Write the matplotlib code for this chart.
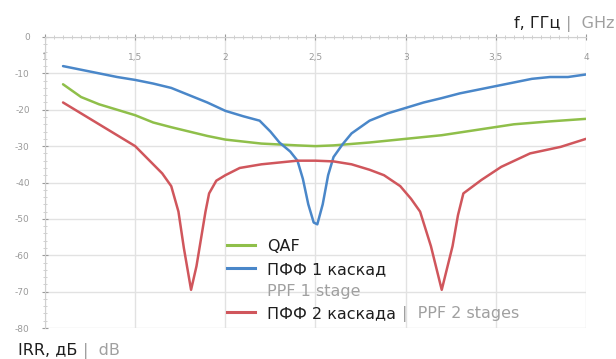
import matplotlib
matplotlib.use('Agg')
import matplotlib.pyplot as plt
from matplotlib.ticker import MultipleLocator, FuncFormatter
from matplotlib.lines import Line2D

plt.rcParams['font.family'] = ['DejaVu Sans']

# QAF
qaf_x = [1.1, 1.2, 1.3, 1.4, 1.5, 1.6, 1.7, 1.8, 1.9, 2.0, 2.2, 2.4, 2.5, 2.6,
         2.8, 3.0, 3.2, 3.4, 3.6, 3.8, 4.0]
qaf_y = [-13, -16.5, -18.5, -20, -21.5, -23.5, -24.8, -26, -27.2, -28.2, -29.3,
         -29.8, -30, -29.8, -29, -28, -27, -25.5, -24, -23.2, -22.5]

# PPF 1 stage
ppf1_x = [1.1, 1.2, 1.3, 1.4, 1.5, 1.6, 1.7, 1.8, 1.9, 2.0, 2.1, 2.19, 2.25,
          2.3, 2.36, 2.4, 2.43, 2.46, 2.49, 2.51, 2.54, 2.57, 2.6, 2.65, 2.7,
          2.8, 2.9, 3.0, 3.1, 3.2, 3.3, 3.4, 3.5, 3.6, 3.7, 3.8, 3.9, 4.0]
ppf1_y = [-8, -9, -10, -11, -11.8, -12.8, -14, -16, -18, -20.3, -21.8, -23,
          -26, -29, -31.5, -34, -39, -46, -51, -51.5, -46, -38, -33, -29.5,
          -26.5, -23, -21, -19.5, -18, -16.8, -15.5, -14.5, -13.5, -12.5,
          -11.5, -11, -11, -10.3]

# PPF 2 stages
ppf2_x = [1.1, 1.2, 1.3, 1.4, 1.45, 1.5, 1.55, 1.6, 1.65, 1.7, 1.74, 1.77,
          1.81, 1.84, 1.86, 1.89, 1.91, 1.95, 2.0, 2.08, 2.2, 2.3, 2.4, 2.5,
          2.6, 2.7, 2.8, 2.88, 2.97, 3.03, 3.08, 3.14, 3.2, 3.26, 3.29, 3.32,
          3.42, 3.53, 3.69, 3.86, 4.0]
ppf2_y = [-18, -21, -24, -27, -28.5, -30, -32.5, -35, -37.5, -41, -48, -58,
          -69.5, -63, -57, -48, -43, -39.5, -38, -36, -35, -34.5, -34, -34,
          -34.2, -35, -36.5, -38, -41, -44.5, -48, -57.5, -69.5, -57.5, -49,
          -43, -39.3, -35.7, -32, -30.2, -28]

x_ticks = [1, 1.5, 2, 2.5, 3, 3.5, 4]
y_ticks = [0, -10, -20, -30, -40, -50, -60, -70, -80]

green = '#8fbf4a'
blue = '#4a87c9'
red = '#d0565c'
grid_c = '#e2e2e2'
tick_c = '#9a9a9a'
dark = '#1e1e1e'
light = '#a0a0a0'
fs = 11.5
W, H = 616, 359

fig = plt.figure(figsize=(6.16, 3.59), dpi=100)
ax = fig.add_axes([45 / W, 1 - 328 / H, 541 / W, 291 / H])

ax.plot(qaf_x, qaf_y, color=green, lw=1.8, solid_capstyle='round')
ax.plot(ppf1_x, ppf1_y, color=blue, lw=1.8, solid_capstyle='round')
ax.plot(ppf2_x, ppf2_y, color=red, lw=1.8, solid_capstyle='round')

ax.set_xlim(1, 4)
ax.set_ylim(-80, 0)
ax.set_xticks(x_ticks)
ax.set_yticks(y_ticks)
ax.xaxis.set_minor_locator(MultipleLocator(0.05))
ax.yaxis.set_minor_locator(MultipleLocator(2))
ax.xaxis.tick_top()
ax.xaxis.set_major_formatter(FuncFormatter(lambda v, p: ('%g' % v).replace('.', ',')))
ax.yaxis.set_major_formatter(FuncFormatter(lambda v, p: '%d' % v))
ax.grid(True, which='major', color=grid_c, lw=1.0)
ax.set_axisbelow(True)

for s in ['right', 'bottom']:
    ax.spines[s].set_visible(False)
for s in ['top', 'left']:
    ax.spines[s].set_color('#d0d0d0')
    ax.spines[s].set_linewidth(0.8)

ax.tick_params(axis='x', which='major', direction='inout', colors=tick_c,
               labelsize=6.5, pad=-20, length=4)
ax.tick_params(axis='y', which='major', direction='inout', colors=tick_c,
               labelsize=6.5, pad=9, length=4)
ax.tick_params(which='minor', direction='inout', length=3, color='#c8c8c8')

fig.canvas.draw()
r = fig.canvas.get_renderer()


def pair(x, y, dark_txt, light_txt, right=False):
    # black text followed by grey "| english" part, y is the baseline in px
    yy = 1 - y / H
    if right:
        t2 = fig.text(x / W, yy, light_txt, fontsize=fs, color=light,
                      va='baseline', ha='right')
        w2 = t2.get_window_extent(r).width
        fig.text((x - w2 - 6) / W, yy, dark_txt, fontsize=fs, color=dark,
                 va='baseline', ha='right')
    else:
        t1 = fig.text(x / W, yy, dark_txt, fontsize=fs, color=dark, va='baseline')
        w1 = t1.get_window_extent(r).width
        fig.text((x + w1 + 6) / W, yy, light_txt, fontsize=fs, color=light,
                 va='baseline')


# legend drawn by hand
base = [251, 274, 296, 318]
tx = 267
for b, c in zip(base, [green, blue, None, red]):
    if c is not None:
        yy = 1 - (b - 6) / H
        fig.add_artist(Line2D([227 / W, 255 / W], [yy, yy], color=c, lw=2.2))
fig.text(tx / W, 1 - base[0] / H, 'QAF', fontsize=fs, color=dark, va='baseline')
fig.text(tx / W, 1 - base[1] / H, 'ПФФ 1 каскад', fontsize=fs, color=dark, va='baseline')
fig.text(tx / W, 1 - base[2] / H, 'PPF 1 stage', fontsize=fs, color=light, va='baseline')
pair(tx, base[3], 'ПФФ 2 каскада', '|  PPF 2 stages')

pair(615, 28, 'f, ГГц', '|  GHz', right=True)
pair(18, 355, 'IRR, дБ', '|  dB')

fig.savefig('out.png', dpi=100)
